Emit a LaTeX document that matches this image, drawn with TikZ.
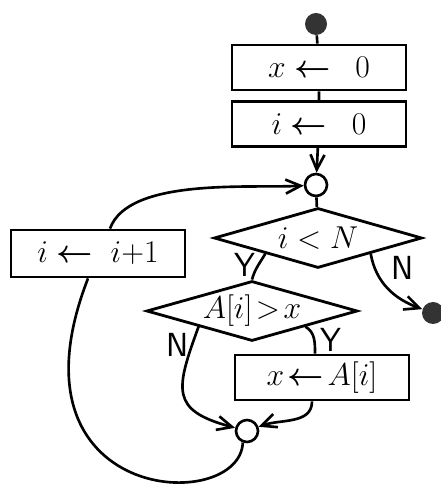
\RequirePackage{fix-cm}
\documentclass[tikz,border=0pt]{standalone}
\usepackage{amsmath}
\usetikzlibrary{shapes.geometric,arrows.meta}

\newcommand{\getsto}{\boldsymbol{\leftarrow}}

\tikzset{
  big/.style={font=\fontsize{18}{21}\selectfont},
  box/.style={draw,big,line width=1.6pt,minimum width=3.48cm,minimum height=.9cm,inner sep=0pt},
  test/.style={draw,diamond,big,aspect=3.5,line width=1.6pt,minimum width=4.2cm,minimum height=1.2cm,inner sep=0pt},
  junc/.style={draw,circle,line width=1.5pt,minimum size=.44cm,inner sep=0pt,fill=white},
  term/.style={circle,fill=black!80,minimum size=.44cm,inner sep=0pt},
  lbl/.style={font=\sffamily\fontsize{19}{22}\selectfont,inner sep=0pt},
  line/.style={line width=1.5pt},
  flow/.style={line width=1.5pt,-{Straight Barb[length=3mm,width=2.8mm]}}
}

\begin{document}
\begin{tikzpicture}
\useasboundingbox (0,0) rectangle (8.8,9.68);

% nodes
\node[term] (start) at (6.32,9.20) {};
\node[box] (b1) at (6.38,8.33) {$x \getsto\enspace 0$};
\node[box] (b2) at (6.38,7.20) {$i \getsto\enspace 0$};
\node[junc] (j1) at (6.32,5.98) {};
\node[test,minimum width=4.16cm] (d1) at (6.36,4.92) {$i < N$};
\node[box,minimum height=.94cm] (inc) at (1.96,4.61) {$i \getsto\; i{+}1$};
\node[test,minimum width=4.22cm] (d2) at (5.04,3.46) {$A[i]\!>\!x$};
\node[box] (set) at (6.44,2.13) {$x\!\getsto\! A[i]$};
\node[junc] (j2) at (4.94,1.06) {};
\node[term] (stop) at (8.66,3.42) {};

% labels
\node[lbl] (y1) at (4.90,4.38) {Y};
\node[lbl] (n1) at (8.06,4.32) {N};
\node[lbl] (n2) at (3.56,2.78) {N};
\node[lbl] (y2) at (6.62,2.88) {Y};

% connectors
\draw[line] (start) -- (b1) -- (b2);
\draw[flow] (b2) -- (j1);
\draw[line] (j1) -- (d1);
\draw[line] (d1.south west) to[out=-120,in=75] (d2.north);
\draw[flow] (d1.south east) to[out=-80,in=160] (stop);
\draw[flow] (d2.south west) to[out=-110,in=165,looseness=1.6] (j2);
\draw[line] (d2.south east) to[out=-30,in=90] ([xshift=-.14cm]set.north);
\draw[flow] ([xshift=-.2cm]set.south) to[out=-90,in=20] (j2);
\draw[line] (j2.-110) .. controls (4.8,-0.62) and (0,-0.42) .. ([xshift=-.2cm]inc.south);
\draw[flow] ([xshift=.24cm]inc.north) to[out=70,in=183,looseness=.7] (j1);
\end{tikzpicture}
\end{document}
